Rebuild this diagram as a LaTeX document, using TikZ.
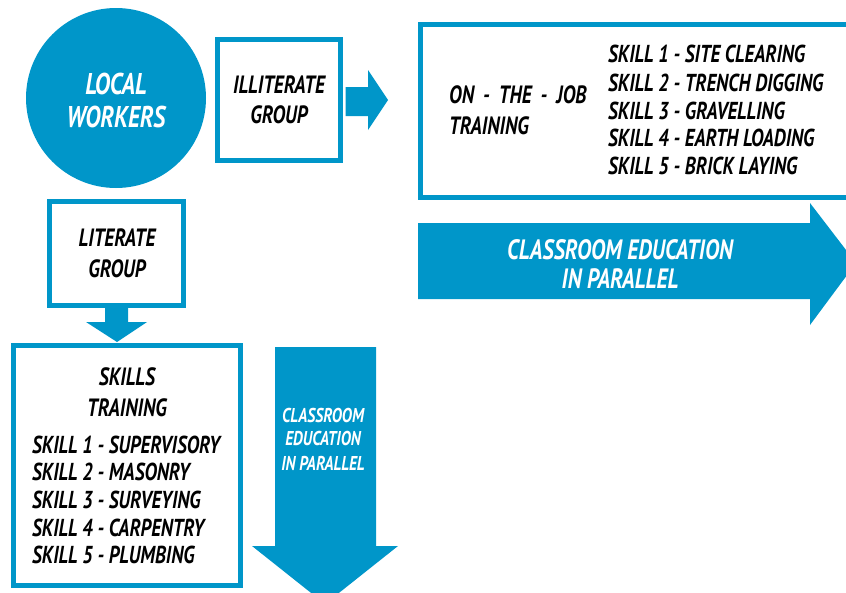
\documentclass[tikz,border=0pt]{standalone}
\usepackage{fontspec}
\setmainfont[FakeStretch=0.78]{PT Sans}
\usetikzlibrary{calc}
\definecolor{blu}{RGB}{0,150,201}
\begin{document}
\begin{tikzpicture}[x=1pt,y=-1pt,
  box/.style={draw=blu,line width=5pt,fill=white,inner sep=0pt},
  blk/.style={fill=blu,draw=none},
  txt/.style={inner sep=0pt,font=\bfseries\itshape\fontsize{24.5}{27}\selectfont},
  head/.style={inner sep=0pt,font=\bfseries\itshape\fontsize{25}{28}\selectfont},
  wtxt/.style={inner sep=0pt,text=white,font=\bfseries\itshape\fontsize{28}{31}\selectfont},
  stxt/.style={inner sep=0pt,text=white,font=\bfseries\itshape\fontsize{20}{22}\selectfont}]
\useasboundingbox (0,0) rectangle (846,592);
\clip (0,0) rectangle (846,592);
% circle
\node[circle,fill=blu,minimum size=180pt,inner sep=0pt] (lw) at (116,98) {};
\node[wtxt,font=\bfseries\itshape\fontsize{30}{33}\selectfont] (lw1) at (116,84) {LOCAL};
\node[wtxt,font=\bfseries\itshape\fontsize{30}{33}\selectfont] (lw2) at (116,117) {WORKERS};
% illiterate box
\node[box,minimum width=123pt,minimum height=121pt] (ill) at (279,100) {};
\node[head] (ill1) at (279,85) {ILLITERATE};
\node[head] (ill2) at (279,115) {GROUP};
% arrow right
\fill[blk] ($(ill.east)+(2.5,-13)$) -- (368,87) -- (368,70) -- (388,100) -- (368,130) -- (368,116) -- ($(ill.east)+(2.5,16)$) -- cycle;
% on the job box
\node[box,minimum width=450pt,minimum height=173pt] (ojt) at (645.5,111) {};
\node[head,anchor=west] (ojt1) at (449,95) {ON\, - \,THE\, - \,JOB};
\node[head,anchor=west] (ojt2) at (449,126) {TRAINING};
\node[txt,anchor=west] (s1) at (608,54) {SKILL 1 - SITE CLEARING};
\node[txt,anchor=west] (s2) at (608,83) {SKILL 2 - TRENCH DIGGING};
\node[txt,anchor=west] (s3) at (608,111) {SKILL 3 - GRAVELLING};
\node[txt,anchor=west] (s4) at (608,138) {SKILL 4 - EARTH LOADING};
\node[txt,anchor=west] (s5) at (608,166) {SKILL 5 - BRICK LAYING};
% big right arrow
\fill[blk] (418,223) -- (810,223) -- (810,203) -- (856,263) -- (810,325) -- (810,299) -- (418,299) -- cycle;
\node[wtxt] (ce1) at (620,250) {CLASSROOM EDUCATION};
\node[wtxt] (ce2) at (620,279) {IN PARALLEL};
% literate box
\node[box,minimum width=134pt,minimum height=104pt] (lit) at (116.5,253.5) {};
\node[head] (lit1) at (117,238) {LITERATE};
\node[head] (lit2) at (117,269) {GROUP};
% small down arrow
\fill[blk] (105,308) -- (128,308) -- (128,322) -- (147,322) -- (117,342) -- (86,322) -- (105,322) -- cycle;
% skills box
\node[box,minimum width=227pt,minimum height=240pt] (skt) at (127,465.5) {};
\node[head] (skt1) at (127,377) {SKILLS};
\node[head] (skt2) at (127,408) {TRAINING};
\node[txt,anchor=west] (k1) at (32,445) {SKILL 1 - SUPERVISORY};
\node[txt,anchor=west] (k2) at (32,472) {SKILL 2 - MASONRY};
\node[txt,anchor=west] (k3) at (32,500) {SKILL 3 - SURVEYING};
\node[txt,anchor=west] (k4) at (32,528) {SKILL 4 - CARPENTRY};
\node[txt,anchor=west] (k5) at (32,555) {SKILL 5 - PLUMBING};
% big down arrow
\fill[blk] (275,347) -- (376,347) -- (376,546) -- (398,546) -- (325,604) -- (252,546) -- (275,546) -- cycle;
\node[stxt] (cd1) at (323,415) {CLASSROOM};
\node[stxt] (cd2) at (323,438) {EDUCATION};
\node[stxt] (cd3) at (323,463) {IN PARALLEL};
\end{tikzpicture}
\end{document}
